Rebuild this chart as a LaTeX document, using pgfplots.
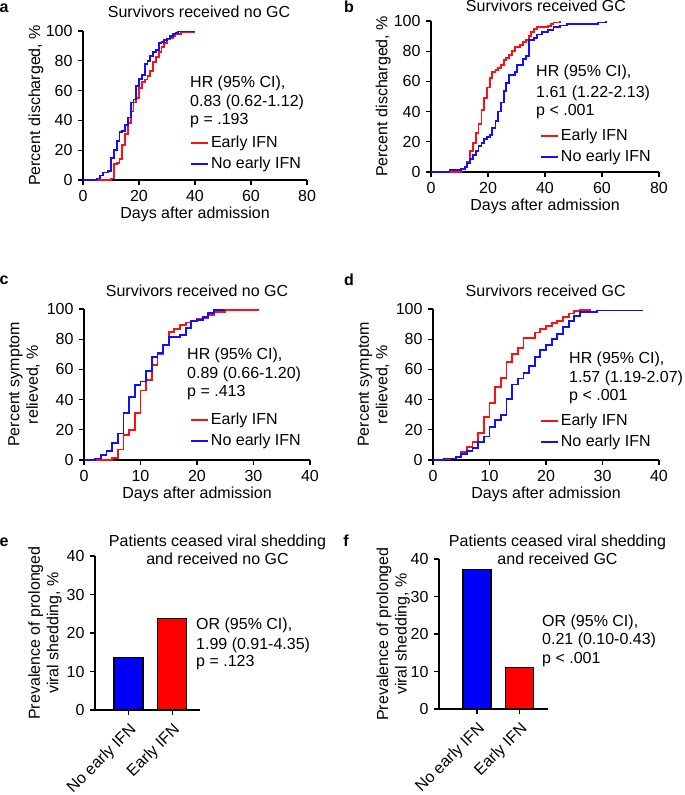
\documentclass[border=0pt]{standalone}
\usepackage{fontspec}
\setmainfont{Liberation Sans}
\usepackage{pgfplots}
\pgfplotsset{compat=1.18}
\definecolor{kmred}{HTML}{FF1010}
\definecolor{kmblue}{HTML}{1010FF}

\pgfplotsset{
  base/.style={scale only axis, axis lines=left, axis line style={line width=1.2pt,-},
    tick style={line width=1.2pt, black}, major tick length=5pt, tick align=outside,
    /pgf/number format/assume math mode=true, clip=false,
    xlabel style={at={(rel axis cs:0.5,0)}, anchor=base, yshift=-39pt}},
  km/.style={base, ymin=0, ymax=100, ytick={0,20,...,100}, xmin=0,
    xlabel={Days after admission},
    legend cell align=left,
    legend image code/.code={\draw[##1] (0pt,0pt) -- (17pt,0pt);},
    legend style={draw=none, fill=none, inner sep=0pt, row sep=3pt, nodes={inner sep=2pt}}},
  bars/.style={base, ymin=0, ymax=40, ytick={0,10,...,40}, xtick={0,1},
    xticklabels={No early IFN, Early IFN}, xticklabel shift=4pt,
    x tick label style={rotate=45, anchor=north east, inner sep=2pt},
    ylabel style={align=center}},
  early/.style={const plot, color=kmred, line width=1.8pt, forget plot},
  noearly/.style={const plot, color=kmblue, line width=1.8pt, forget plot},
}
\newcommand{\kmlegend}{%
  \addlegendimage{color=kmred, line width=1.8pt}\addlegendentry{Early IFN}
  \addlegendimage{color=kmblue, line width=1.8pt}\addlegendentry{No early IFN}}

\begin{document}
\fontsize{16}{18.5}\selectfont
\begin{tikzpicture}
\path[use as bounding box] (0,0) rectangle (685pt,795pt);

% a
\begin{axis}[km, at={(83pt,615pt)}, anchor=south west, width=224pt, height=149pt,
  xmax=80, xtick={0,20,...,80}, ylabel={Percent discharged, \%},
  ylabel style={at={(axis description cs:-0.21,0.5)}, anchor=center},
  legend style={at={(axis description cs:0.478,0.31)}, anchor=north west}]
\addplot[early] coordinates {(0,0)(10,1)(11,10.7)(12,11.6)(13,14)(14,23.5)(15,31)(16,38)(17,46)(18,52)(19,55)(20,62)(21,66)(22,67.5)(23,70)(24,73)(25,79.4)(26,82.8)(27,86)(28,89.5)(29,92)(30,94.4)(31,95.5)(32,96.9)(33,97.8)(35,99.3)(40,99.3)};
\addplot[noearly] coordinates {(0,0)(5,1)(6,3)(7,5)(9,6)(10,15)(11,20)(12,26)(13,32)(14,33)(15,37)(16,42)(17,52)(18,54)(19,63)(20,68)(21,70.5)(22,77.6)(23,80)(24,83)(25,85.7)(26,87)(27,91.7)(28,92.8)(29,94)(30,95)(31,96.6)(32,98)(33,98.8)(34,99.6)(40,99.6)};
\kmlegend
\end{axis}

% b
\begin{axis}[km, at={(431pt,623pt)}, anchor=south west, width=228pt, height=151pt,
  xmax=80, xtick={0,20,...,80}, ylabel={Percent discharged, \%},
  ylabel style={at={(axis description cs:-0.21,0.5)}, anchor=center},
  legend style={at={(axis description cs:0.478,0.30)}, anchor=north west}]
\addplot[early] coordinates {(0,0)(10.6,2)(11.8,3.5)(12.7,6.8)(13.8,14)(14.7,19)(15.7,25.6)(16.7,32)(17.7,41)(18.6,48.8)(19.6,56)(20.6,62)(21.5,66.4)(22.6,67.5)(23.5,68.7)(24.5,71)(25.5,74)(26.4,75.7)(27.4,77.5)(28.4,80)(29.4,83)(31.3,84)(32.3,86)(33.3,87.4)(34.3,90)(35.2,92.5)(36.2,94.7)(37.2,96)(41,96.9)(42,98)(43,99)(45.3,100)};
\addplot[noearly] coordinates {(0,0)(6.5,1.3)(10.6,2)(11.8,3.5)(12.7,5.7)(13.8,8.6)(14.7,11)(15.7,14)(16.7,17)(17.7,19)(18.6,22)(19.6,23)(20.6,24.5)(21.5,29)(22.6,34)(23.5,40)(24.5,46)(25.5,53.6)(26.4,58.7)(27.4,64)(29.4,66.4)(30.3,71)(32.3,75)(33.3,77)(34.3,87.4)(36.1,89)(37.2,91)(39,92.5)(41,94)(43,96)(45.3,97)(47.6,98)(58.7,99)(61.3,100)};
\kmlegend
\end{axis}

% c
\begin{axis}[km, at={(84pt,335pt)}, anchor=south west, width=226pt, height=151pt,
  xmax=40, xtick={0,10,...,40}, ylabel={Percent symptom\\relieved, \%},
  ylabel style={at={(axis description cs:-0.265,0.5)}, anchor=center, align=center},
  legend style={at={(axis description cs:0.469,0.325)}, anchor=north west}]
\addplot[early] coordinates {(0,0)(5,1.5)(6,7)(7,16.6)(8,20)(9,31)(10,46)(11,53)(12,63)(13,70)(14,76)(15,85)(16,86.7)(17,89.6)(18,91)(19,92)(20,93.4)(21,94)(22,96)(23,98)(25,99.5)(31,99.5)};
\addplot[noearly] coordinates {(0,0)(2,1)(3,3.3)(4,6)(5,11)(6,17.6)(7,31)(8,41.7)(9,49.7)(10,52)(11,59)(12,68)(13,71)(14,76)(15,81.5)(17,83)(18,87.6)(19,91.8)(20,92.5)(21,94.5)(22,97.3)(23,99.3)(25,99.3)};
\kmlegend
\end{axis}

% d
\begin{axis}[km, at={(433pt,335pt)}, anchor=south west, width=226pt, height=151pt,
  xmax=40, xtick={0,10,...,40}, ylabel={Percent symptom\\relieved, \%},
  ylabel style={at={(axis description cs:-0.263,0.5)}, anchor=center, align=center},
  legend style={at={(axis description cs:0.473,0.32)}, anchor=north west}]
\addplot[early] coordinates {(0,0)(2,0.7)(3,1)(4,2)(5,5.5)(6,8.8)(7,11.7)(8,17.7)(9,28.7)(10,38)(11,48.6)(12,54.5)(13,64.7)(14,70)(15,74.4)(16,80.6)(17,81)(18,84.5)(19,86.8)(20,89)(21,90.5)(22,92.3)(23,94.7)(24,97)(25,98.5)(26,99.5)(28,99.5)};
\addplot[noearly] coordinates {(0,0)(2,1)(4,2)(5,4)(6,6)(7,8)(8,11.7)(9,15.5)(10,22)(11,26.5)(12,30)(13,40.5)(14,50)(15,54)(16,57.5)(17,62)(18,68)(19,73)(20,76)(21,80)(22,83.6)(23,88)(24,91.8)(25,95.6)(26,97.8)(29,99)(37,99.5)};
\kmlegend
\end{axis}

% e
\begin{axis}[bars, at={(95pt,85pt)}, anchor=south west, width=105pt, height=154pt,
  xmin=-0.77, xmax=1.64, ylabel={Prevalence of prolonged\\viral shedding, \%},
  ylabel style={at={(axis description cs:-0.476,0.5)}, anchor=center}]
\addplot[ybar, bar width=29pt, bar shift=0pt, fill=blue, draw=black, line width=1.2pt] coordinates {(0,13.7)};
\addplot[ybar, bar width=29pt, bar shift=0pt, fill=red, draw=black, line width=1.2pt] coordinates {(1,23.8)};
\end{axis}

% f
\begin{axis}[bars, at={(439pt,86pt)}, anchor=south west, width=109pt, height=150pt,
  xmin=-0.894, xmax=1.67, ylabel={Prevalence of prolonged\\viral shedding, \%},
  ylabel style={at={(axis description cs:-0.42,0.5)}, anchor=center}]
\addplot[ybar, bar width=28pt, bar shift=0pt, fill=blue, draw=black, line width=1.2pt] coordinates {(0,37.3)};
\addplot[ybar, bar width=28pt, bar shift=0pt, fill=red, draw=black, line width=1.2pt] coordinates {(1,11.1)};
\end{axis}

% panel letters
\node[font=\bfseries] at (4pt,787pt) {a};
\node[font=\bfseries] at (349pt,788pt) {b};
\node[font=\bfseries] at (4pt,515pt) {c};
\node[font=\bfseries] at (349pt,515pt) {d};
\node[font=\bfseries] at (4pt,253pt) {e};
\node[font=\bfseries] at (346pt,254pt) {f};

% titles
\node[anchor=base] at (199pt,777.5pt) {Survivors received no GC};
\node[anchor=base] at (546pt,783pt) {Survivors received GC};
\node[anchor=base] at (197pt,498.3pt) {Survivors received no GC};
\node[anchor=base] at (545.7pt,498.3pt) {Survivors received GC};
\node[anchor=base] at (217.5pt,248.3pt) {Patients ceased viral shedding};
\node[anchor=base] at (217.5pt,230pt) {and received no GC};
\node[anchor=base] at (557.5pt,248.3pt) {Patients ceased viral shedding};
\node[anchor=base] at (557.5pt,230pt) {and received GC};

% statistics
\node[anchor=base west, inner sep=0pt] at (190pt,707.7pt) {HR (95\% CI),};
\node[anchor=base west, inner sep=0pt] at (190pt,688.3pt) {0.83 (0.62-1.12)};
\node[anchor=base west, inner sep=0pt] at (190pt,670pt) {p = .193};
\node[anchor=base west, inner sep=0pt] at (536pt,718.3pt) {HR (95\% CI),};
\node[anchor=base west, inner sep=0pt] at (536pt,697.3pt) {1.61 (1.22-2.13)};
\node[anchor=base west, inner sep=0pt] at (536pt,679pt) {p < .001};
\node[anchor=base west, inner sep=0pt] at (187pt,435pt) {HR (95\% CI),};
\node[anchor=base west, inner sep=0pt] at (187pt,416pt) {0.89 (0.66-1.20)};
\node[anchor=base west, inner sep=0pt] at (187pt,398.3pt) {p = .413};
\node[anchor=base west, inner sep=0pt] at (569pt,431.7pt) {HR (95\% CI),};
\node[anchor=base west, inner sep=0pt] at (569pt,412.3pt) {1.57 (1.19-2.07)};
\node[anchor=base west, inner sep=0pt] at (569pt,394.3pt) {p < .001};
\node[anchor=base west, inner sep=0pt] at (196pt,165pt) {OR (95\% CI),};
\node[anchor=base west, inner sep=0pt] at (196pt,145pt) {1.99 (0.91-4.35)};
\node[anchor=base west, inner sep=0pt] at (196pt,128.3pt) {p = .123};
\node[anchor=base west, inner sep=0pt] at (542pt,168.3pt) {OR (95\% CI),};
\node[anchor=base west, inner sep=0pt] at (542pt,150pt) {0.21 (0.10-0.43)};
\node[anchor=base west, inner sep=0pt] at (542pt,131.7pt) {p < .001};
\end{tikzpicture}
\end{document}
